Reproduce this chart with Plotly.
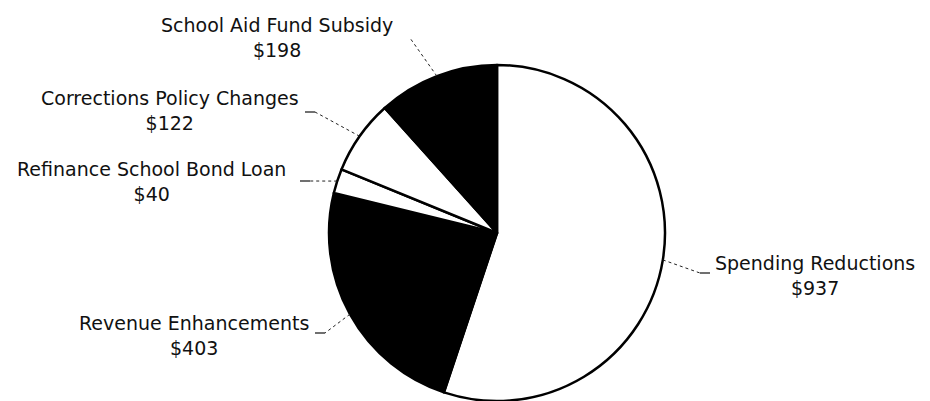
import math
import plotly.graph_objects as go

# Budget solution components ($ millions), clockwise from 12 o'clock
categories = [
    "Spending Reductions",
    "Revenue Enhancements",
    "Refinance School Bond Loan",
    "Corrections Policy Changes",
    "School Aid Fund Subsidy",
]
values = [937, 403, 40, 122, 198]
fills = ["white", "black", "white", "white", "black"]

# Canvas and pie geometry (pixels)
W, H = 930, 401
CX, CY, R = 497, 233, 168

# Label block centres and leader-line elbows (pixels); elbow_len = solid tick length
label_pos = [(815, 275), (194, 335), (151, 181), (170, 110), (277, 37)]
elbows = [(700, 273), (325, 333), (310, 181), (315, 112), (410, 38)]
tick_dir = [1, -1, -1, -1, 0]
tick_len = 10


def px(x):
    return x / W


def py(y):
    return 1 - y / H


fig = go.Figure()
fig.add_trace(go.Pie(
    labels=categories,
    values=values,
    sort=False,
    direction="clockwise",
    rotation=0,
    marker=dict(colors=fills, line=dict(color="black", width=2.5)),
    textinfo="none",
    hoverinfo="skip",
    showlegend=False,
    domain=dict(x=[px(CX - R), px(CX + R)], y=[py(CY + R), py(CY - R)]),
))

total = sum(values)
shapes = []
annotations = []
cum = 0.0
for name, v, (lx, ly), (ex, ey), d in zip(categories, values, label_pos, elbows, tick_dir):
    mid = (cum + v / 2) / total * 2 * math.pi
    cum += v
    # point on the rim at the middle of the slice
    rx = CX + R * math.sin(mid)
    ry = CY - R * math.cos(mid)
    shapes.append(dict(type="line", xref="paper", yref="paper",
                       x0=px(rx), y0=py(ry), x1=px(ex), y1=py(ey),
                       line=dict(color="#222", width=1, dash="dot")))
    if d != 0:
        shapes.append(dict(type="line", xref="paper", yref="paper",
                           x0=px(ex), y0=py(ey), x1=px(ex + d * tick_len), y1=py(ey),
                           line=dict(color="#111", width=1.2)))
    annotations.append(dict(
        x=px(lx), y=py(ly), xref="paper", yref="paper",
        text=f"{name}<br>${v}",
        showarrow=False, xanchor="center", yanchor="middle", align="center",
        font=dict(family="DejaVu Sans", size=19, color="#111"),
    ))

fig.update_layout(
    width=W, height=H,
    margin=dict(l=0, r=0, t=0, b=0),
    paper_bgcolor="white",
    plot_bgcolor="white",
    shapes=shapes,
    annotations=annotations,
)

fig.write_html("out.html")
